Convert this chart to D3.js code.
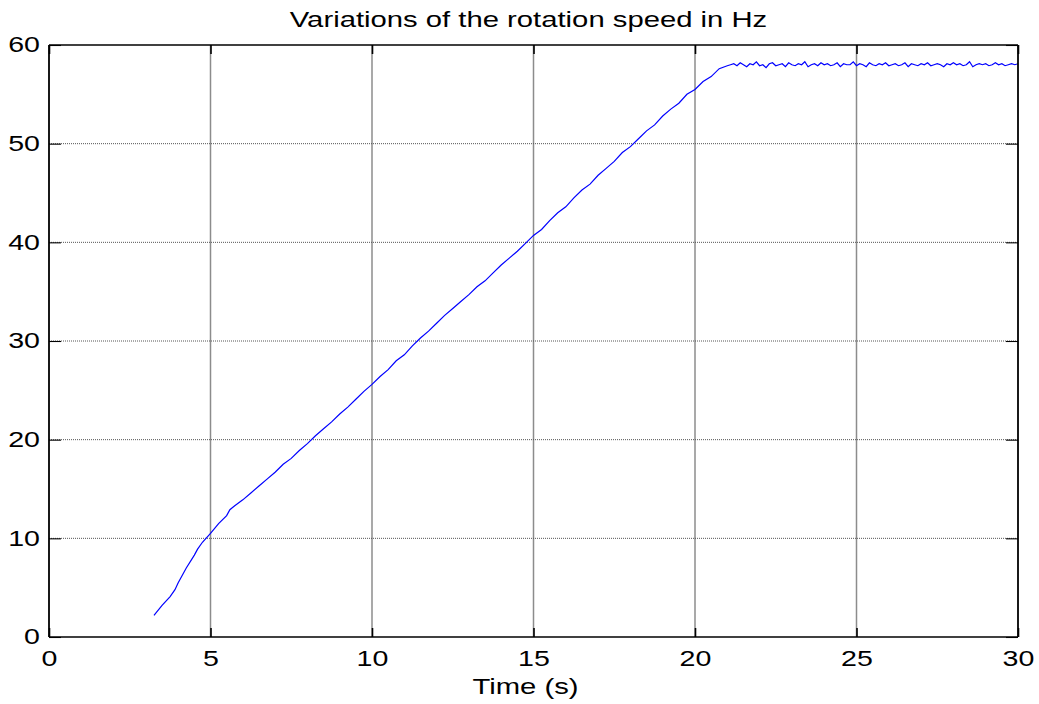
<!DOCTYPE html>
<html>
<head>
<meta charset="utf-8">
<script src="https://cdn.jsdelivr.net/npm/d3@7/dist/d3.min.js"></script>
<style>
    body { margin: 0; background: #fff; }
    svg { display: block; font-family: "Liberation Sans", Arial, sans-serif; }
</style>
</head>
<body>
<svg id="chart" width="1039" height="704"></svg>
<script>
// rising part of the speed curve
const riseTime = [3.25, 3.5, 3.75, 3.9, 4.0, 4.25, 4.5, 4.6, 4.75, 5.0, 5.25, 5.5, 5.6, 5.75, 6.0,
    6.25, 6.5, 6.75, 7.0, 7.25, 7.5, 7.75, 8.0, 8.25, 8.5, 8.75, 9.0, 9.25, 9.5, 9.75, 10.0,
    10.25, 10.5, 10.75, 11.0, 11.25, 11.5, 11.75, 12.0, 12.25, 12.5, 12.75, 13.0, 13.25, 13.5,
    13.75, 14.0, 14.25, 14.5, 14.75, 15.0, 15.25, 15.5, 15.75, 16.0, 16.25, 16.5, 16.75, 17.0,
    17.25, 17.5, 17.75, 18.0, 18.25, 18.5, 18.75, 19.0, 19.25, 19.5, 19.75, 20.0, 20.25, 20.5,
    20.75, 21.0];
const riseSpeed = [2.2, 3.2, 4.1, 4.8, 5.5, 7.0, 8.3, 8.9, 9.6, 10.5, 11.5, 12.3, 12.9, 13.3, 13.9,
    14.6, 15.3, 16.0, 16.7, 17.5, 18.1, 18.9, 19.6, 20.4, 21.1, 21.8, 22.6, 23.3, 24.1, 24.9, 25.6,
    26.4, 27.1, 28.0, 28.6, 29.5, 30.3, 31.0, 31.8, 32.6, 33.3, 34.0, 34.7, 35.5, 36.1,
    36.9, 37.7, 38.4, 39.1, 39.9, 40.7, 41.3, 42.2, 43.0, 43.6, 44.5, 45.3, 45.9, 46.8,
    47.5, 48.2, 49.1, 49.7, 50.5, 51.3, 51.9, 52.8, 53.5, 54.1, 55.0, 55.5, 56.3, 56.8,
    57.6, 57.9];

// steady part with the small ripple
const flatTime = [21.1, 21.2, 21.3, 21.4, 21.5, 21.6, 21.7, 21.8, 21.9, 22.0,
    22.1, 22.2, 22.3, 22.4, 22.5, 22.6, 22.7, 22.8, 22.9, 23.0,
    23.1, 23.2, 23.3, 23.4, 23.5, 23.6, 23.7, 23.8, 23.9, 24.0,
    24.1, 24.2, 24.3, 24.4, 24.5, 24.6, 24.7, 24.8, 24.9, 25.0,
    25.1, 25.2, 25.3, 25.4, 25.5, 25.6, 25.7, 25.8, 25.9, 26.0,
    26.1, 26.2, 26.3, 26.4, 26.5, 26.6, 26.7, 26.8, 26.9, 27.0,
    27.1, 27.2, 27.3, 27.4, 27.5, 27.6, 27.7, 27.8, 27.9, 28.0,
    28.1, 28.2, 28.3, 28.4, 28.5, 28.6, 28.7, 28.8, 28.9, 29.0,
    29.1, 29.2, 29.3, 29.4, 29.5, 29.6, 29.7, 29.8, 29.9, 30.0];
const flatSpeed = [58.0, 58.1, 57.9, 58.2, 58.0, 57.8, 58.1, 58.0, 58.3, 57.9,
    58.0, 57.7, 58.1, 58.2, 57.9, 58.0, 58.1, 57.8, 58.2, 58.0,
    57.9, 58.1, 58.0, 58.3, 57.8, 58.0, 58.1, 57.9, 58.2, 58.0,
    58.1, 57.9, 58.0, 58.2, 57.8, 58.1, 58.0, 58.0, 58.3, 57.9,
    58.1, 58.0, 57.8, 58.2, 58.0, 57.9, 58.1, 58.0, 58.2, 57.9,
    58.0, 58.1, 57.9, 58.0, 58.2, 57.8, 58.1, 58.0, 57.9, 58.1,
    58.0, 58.2, 57.9, 58.0, 58.1, 58.0, 57.8, 58.1, 58.0, 58.2,
    58.0, 58.1, 57.9, 58.0, 58.3, 57.8, 58.0, 58.1, 58.0, 58.1,
    57.9, 58.0, 58.2, 58.0, 58.1, 57.9, 58.0, 58.1, 58.0, 58.1];

const xTicks = [0, 5, 10, 15, 20, 25, 30];
const yTicks = [0, 10, 20, 30, 40, 50, 60];

const width = 1039;
const height = 704;
const margin = { top: 45, right: 21, bottom: 67, left: 49 };
const innerW = width - margin.left - margin.right;
const innerH = height - margin.top - margin.bottom;

// the original picture is stretched sideways, so the text is too
const sx = 1.33;

const svg = d3.select('#chart');
const g = svg.append('g')
    .attr('transform', `translate(${margin.left}, ${margin.top})`);

const x = d3.scaleLinear().domain([0, 30]).range([0, innerW]);
const y = d3.scaleLinear().domain([0, 60]).range([innerH, 0]);

// grid
g.append('g').selectAll('line')
    .data(xTicks.slice(1, -1))
    .enter().append('line')
    .attr('x1', d => x(d)).attr('x2', d => x(d))
    .attr('y1', 0).attr('y2', innerH)
    .attr('stroke', '#8c8c8c')
    .attr('stroke-width', 1.5);

g.append('g').selectAll('line')
    .data(yTicks.slice(1, -1))
    .enter().append('line')
    .attr('x1', 0).attr('x2', innerW)
    .attr('y1', d => y(d)).attr('y2', d => y(d))
    .attr('stroke', '#555')
    .attr('stroke-width', 1)
    .attr('stroke-dasharray', '1,1');

// data
const points = riseTime.map((t, i) => [t, riseSpeed[i]])
    .concat(flatTime.map((t, i) => [t, flatSpeed[i]]));

g.append('path')
    .datum(points)
    .attr('fill', 'none')
    .attr('stroke', '#0000ff')
    .attr('stroke-width', 1.2)
    .attr('d', d3.line().x(d => x(d[0])).y(d => y(d[1])));

// axes with inward ticks, matlab style
const tickV = 9;   // vertical tick marks on x axis
const tickH = 12;  // horizontal tick marks on y axis
const fontSize = 21.5;

const xb = d3.axisBottom(x).tickValues(xTicks).tickSizeInner(-tickV).tickSizeOuter(0).tickPadding(14);
const xt = d3.axisTop(x).tickValues(xTicks).tickSizeInner(-tickV).tickSizeOuter(0).tickFormat('');
const yl = d3.axisLeft(y).tickValues(yTicks).tickSizeInner(-tickH).tickSizeOuter(0).tickPadding(9);
const yr = d3.axisRight(y).tickValues(yTicks).tickSizeInner(-tickH).tickSizeOuter(0).tickFormat('');

function styleAxis(sel, w) {
    sel.select('.domain').remove();
    sel.selectAll('line').attr('stroke', '#000').attr('stroke-width', w);
    sel.selectAll('text')
        .attr('fill', '#000')
        .style('font-size', fontSize + 'px')
        .attr('x', function () { return (+d3.select(this).attr('x') || 0) / sx; })
        .attr('transform', `scale(${sx},1)`);
}

g.append('g').attr('transform', `translate(0, ${innerH})`).call(xb).call(styleAxis, 1.6);
g.append('g').call(xt).call(styleAxis, 1.6);
g.append('g').call(yl).call(styleAxis, 1.1);
g.append('g').attr('transform', `translate(${innerW}, 0)`).call(yr).call(styleAxis, 1.1);

// box
g.append('line').attr('x1', 0).attr('x2', innerW).attr('y1', 0).attr('y2', 0)
    .attr('stroke', '#000').attr('stroke-width', 1.3);
g.append('line').attr('x1', 0).attr('x2', innerW).attr('y1', innerH).attr('y2', innerH)
    .attr('stroke', '#000').attr('stroke-width', 1.3);
g.append('line').attr('x1', 0).attr('x2', 0).attr('y1', 0).attr('y2', innerH)
    .attr('stroke', '#000').attr('stroke-width', 1.8);
g.append('line').attr('x1', innerW).attr('x2', innerW).attr('y1', 0).attr('y2', innerH)
    .attr('stroke', '#000').attr('stroke-width', 1.8);

// labels
svg.append('g')
    .attr('transform', `translate(${margin.left + innerW / 2 - 5}, 27) scale(${sx},1)`)
    .append('text')
    .attr('text-anchor', 'middle')
    .style('font-size', '22px')
    .text('Variations of the rotation speed in Hz');

svg.append('g')
    .attr('transform', `translate(${margin.left + innerW / 2 - 8}, 694) scale(${sx},1)`)
    .append('text')
    .attr('text-anchor', 'middle')
    .style('font-size', '22px')
    .text('Time (s)');
</script>
</body>
</html>
